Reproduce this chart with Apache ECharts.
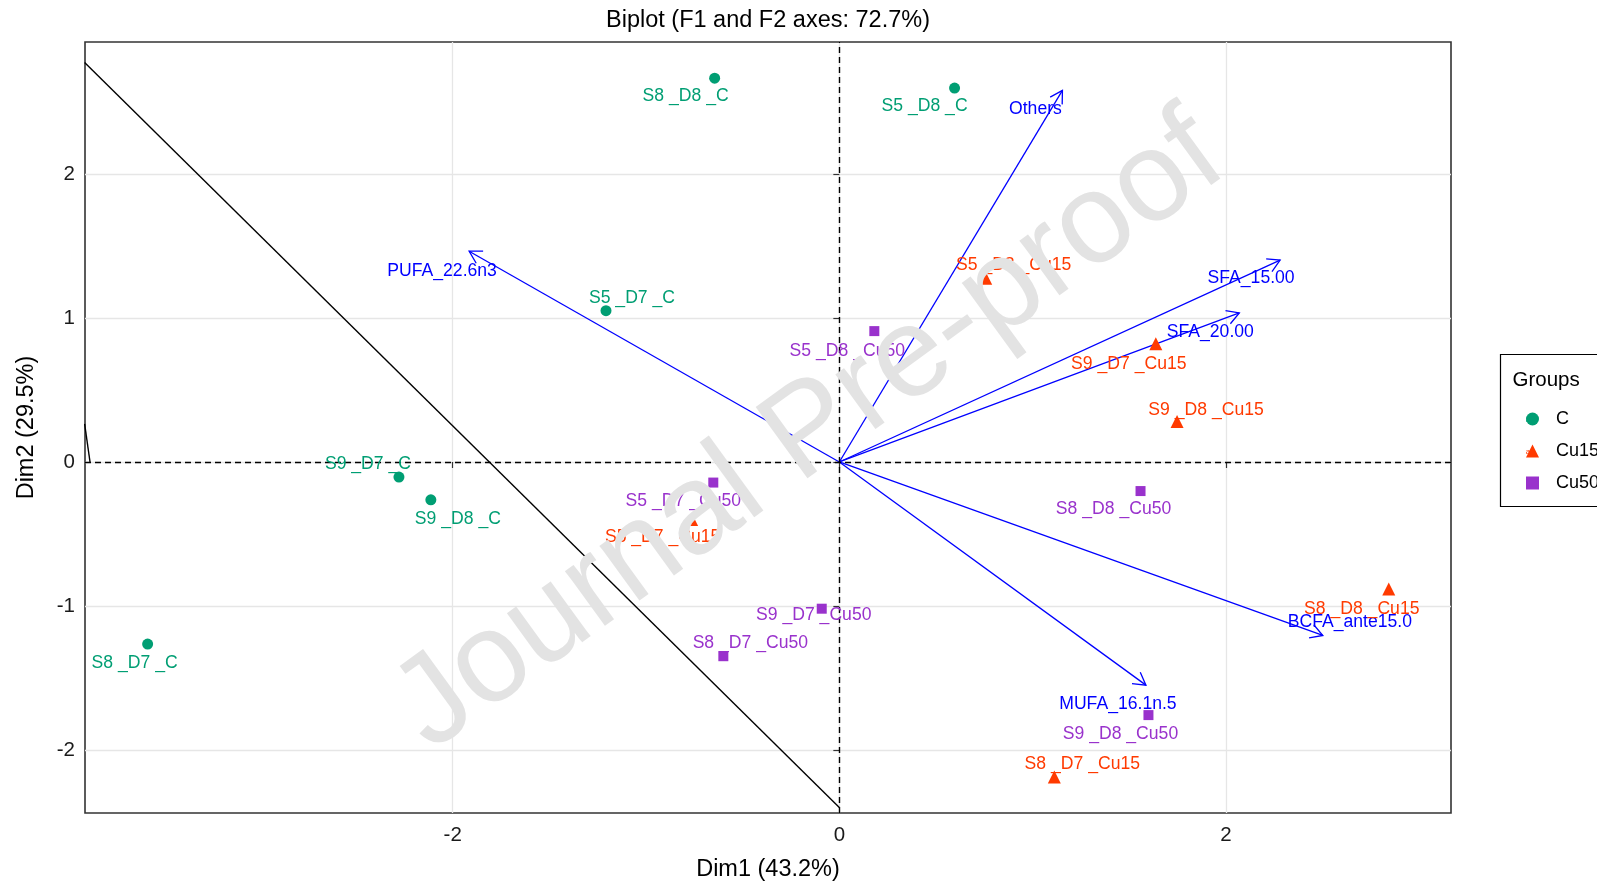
<!DOCTYPE html>
<html><head><meta charset="utf-8">
<script src="https://cdn.jsdelivr.net/npm/echarts@6/dist/echarts.min.js"></script>
<style>html,body{margin:0;padding:0;background:#fff}#c{width:1597px;height:887px}</style>
</head><body><div id="c"></div>
<script>
// ---------- data ----------
const groupNames = ['C', 'Cu15', 'Cu50'];

const namesC = ['S8 _D8 _C', 'S5 _D8 _C', 'S5 _D7 _C', 'S9 _D7 _C', 'S9 _D8 _C', 'S8 _D7 _C'];
const xC = [-0.645, 0.596, -1.207, -2.278, -2.113, -3.578];
const yC = [2.666, 2.597, 1.051, -0.105, -0.263, -1.265];

const namesCu15 = ['S5 _D8 _Cu15', 'S9 _D7 _Cu15', 'S9 _D8 _Cu15', 'S5 _D7 _Cu15', 'S8 _D8 _Cu15', 'S8 _D7 _Cu15'];
const xCu15 = [0.757, 1.637, 1.747, -0.764, 2.842, 1.112];
const yCu15 = [1.276, 0.821, 0.282, -0.400, -0.883, -2.188];

const namesCu50 = ['S5 _D8 _Cu50', 'S5 _D7 _Cu50', 'S8 _D8 _Cu50', 'S9 _D7 _Cu50', 'S8 _D7 _Cu50', 'S9 _D8 _Cu50'];
const xCu50 = [0.181, -0.652, 1.558, -0.091, -0.600, 1.599];
const yCu50 = [0.909, -0.143, -0.202, -1.019, -1.349, -1.758];

const arrowNames = ['Others', 'PUFA_22.6n3', 'SFA_15.00', 'SFA_20.00', 'BCFA_ante15.0', 'MUFA_16.1n.5'];
const arrowX = [1.154, -1.915, 2.280, 2.069, 2.501, 1.586];
const arrowY = [2.581, 1.464, 1.402, 1.035, -1.205, -1.550];

const lineA = [[-3.904, 2.774], [0, -2.399]];
const lineB = [[-3.904, 0.265], [-3.876, 0]];

const xTicks = [-2, 0, 2];
const yTicks = [-2, -1, 0, 1, 2];

// ---------- layout (label offsets in px, not data) ----------
const offC = [[-29, 18], [-30, 18], [26, -13], [-31, -13], [27, 19], [-13, 19]];
const offCu15 = [[28, -13], [-27, 20], [29, -11], [-29, 18], [-27, 20], [28, -13]];
const offCu50 = [[-27, 20], [-30, 19], [-27, 18], [-8, 6], [27, -13], [-28, 19]];
const offArrow = [[-27, 19], [-27, 20], [-29, 18], [-29, 19], [27, -13], [-28, 19]];

const colors = ['#009E73', '#FF3A00', '#9932CC'];
const FONT = '"Liberation Sans", Arial, sans-serif';
const LBL = 17.6;

function pts(names, xs, ys) {
  return names.map((n, i) => ({ name: n, value: [xs[i], ys[i]] }));
}

function scatterSeries(name, symbol, size, data, color, offs) {
  return {
    name: name, type: 'scatter', symbol: symbol, symbolSize: size, data: data, z: 5,
    itemStyle: { color: color, opacity: 1 },
    label: {
      show: true, position: 'inside', formatter: p => p.name,
      color: color, fontSize: LBL, fontFamily: FONT
    },
    labelLayout: function (p) {
      const o = offs[p.dataIndex];
      return { dx: o[0], dy: o[1], hideOverlap: false };
    },
    emphasis: { disabled: true }
  };
}

const chart = echarts.init(document.getElementById('c'), null, { renderer: 'canvas' });

const option = {
  animation: false,
  textStyle: { fontFamily: FONT },
  grid: { left: 85, right: 146, top: 42, bottom: 68, show: true, borderColor: '#333', borderWidth: 1.6, backgroundColor: 'transparent' },
  xAxis: {
    type: 'value', min: -3.902, max: 3.164,
    name: 'Dim1 (43.2%)', nameLocation: 'middle', nameGap: 45,
    nameTextStyle: { fontSize: 23.5, color: '#000', fontFamily: FONT },
    axisLine: { show: false },
    axisTick: { show: true, length: 6, lineStyle: { color: '#333', width: 1.2 }, customValues: xTicks },
    axisLabel: { customValues: xTicks, fontSize: 20.5, color: '#1a1a1a', margin: 12, fontFamily: FONT },
    splitLine: { show: true, lineStyle: { color: '#e6e6e6', width: 1.3 } }
  },
  yAxis: {
    type: 'value', min: -2.438, max: 2.917,
    name: 'Dim2 (29.5%)', nameLocation: 'middle', nameGap: 46,
    nameTextStyle: { fontSize: 23.5, color: '#000', fontFamily: FONT },
    axisLine: { show: false },
    axisTick: { show: true, length: 6, lineStyle: { color: '#333', width: 1.2 }, customValues: yTicks },
    axisLabel: { customValues: yTicks, fontSize: 20.5, color: '#1a1a1a', margin: 10, fontFamily: FONT, padding: [4, 0, 0, 0] },
    splitLine: { show: true, lineStyle: { color: '#e6e6e6', width: 1.3 } }
  },
  legend: {
    orient: 'vertical', left: 1521, top: 405, itemGap: 14,
    itemWidth: 13, itemHeight: 13,
    data: groupNames,
    textStyle: { fontSize: 18, color: '#000', fontFamily: FONT, padding: [0, 0, 0, 12] },
    selectedMode: false
  },
  series: [
    {
      type: 'line', data: lineA, symbol: 'none', z: 3, silent: true,
      lineStyle: { color: '#000', width: 1.4 },
      markLine: {
        silent: true, symbol: ['none', 'none'], label: { show: false },
        lineStyle: { color: '#000', type: [6, 4], width: 1.4 },
        data: [{ xAxis: 0 }, { yAxis: 0 }]
      }
    },
    { type: 'line', data: lineB, symbol: 'none', z: 3, silent: true, lineStyle: { color: '#000', width: 1.4 } },
    {
      type: 'custom', z: 4, silent: true,
      data: arrowX.map((x, i) => [x, arrowY[i]]),
      renderItem: function (params, api) {
        const o = api.coord([0, 0]);
        const t = api.coord([api.value(0), api.value(1)]);
        const ang = Math.atan2(t[1] - o[1], t[0] - o[0]);
        const L = 14, A = Math.PI / 6;
        const h1 = [t[0] - L * Math.cos(ang - A), t[1] - L * Math.sin(ang - A)];
        const h2 = [t[0] - L * Math.cos(ang + A), t[1] - L * Math.sin(ang + A)];
        const off = offArrow[params.dataIndex];
        return {
          type: 'group', children: [
            { type: 'line', shape: { x1: o[0], y1: o[1], x2: t[0], y2: t[1] }, style: { stroke: '#0000FF', lineWidth: 1.3 } },
            { type: 'polyline', shape: { points: [h1, t, h2] }, style: { stroke: '#0000FF', lineWidth: 1.3, fill: null } },
            { type: 'text', x: t[0] + off[0], y: t[1] + off[1], style: { text: arrowNames[params.dataIndex], fill: '#0000FF', fontSize: LBL, fontFamily: FONT, align: 'center', verticalAlign: 'middle' } }
          ]
        };
      }
    },
    scatterSeries('C', 'circle', 11, pts(namesC, xC, yC), colors[0], offC),
    scatterSeries('Cu15', 'triangle', 13, pts(namesCu15, xCu15, yCu15), colors[1], offCu15),
    scatterSeries('Cu50', 'rect', 10, pts(namesCu50, xCu50, yCu50), colors[2], offCu50)
  ],
  graphic: [
    { type: 'text', x: 768, y: 21, z: 50, style: { text: 'Biplot (F1 and F2 axes: 72.7%)', fontSize: 23.5, fill: '#000', fontFamily: FONT, align: 'center', verticalAlign: 'middle' } },
    { type: 'rect', z: 50, shape: { x: 1500.5, y: 354.5, width: 140, height: 152 }, style: { stroke: '#000', lineWidth: 1.2, fill: 'none' } },
    { type: 'text', x: 1512.5, y: 380, z: 50, style: { text: 'Groups', fontSize: 20.5, fill: '#000', fontFamily: FONT, align: 'left', verticalAlign: 'middle' } },
    { type: 'text', x: 1528, y: 420, z: 60, style: { text: 'a', fontSize: 8, fill: colors[0], fontFamily: FONT, align: 'center', verticalAlign: 'middle' } },
    { type: 'text', x: 1528, y: 452, z: 60, style: { text: 'a', fontSize: 8, fill: colors[1], fontFamily: FONT, align: 'center', verticalAlign: 'middle' } },
    { type: 'text', x: 1528, y: 486, z: 60, style: { text: 'a', fontSize: 8, fill: colors[2], fontFamily: FONT, align: 'center', verticalAlign: 'middle' } },
    { type: 'text', x: 810, y: 433, z: 100, rotation: 36 * Math.PI / 180, style: { text: 'Journal Pre-proof', fontSize: 128, fill: '#e3e3e3', fontFamily: FONT, align: 'center', verticalAlign: 'middle' } }
  ]
};
chart.setOption(option);
</script>
</body></html>
